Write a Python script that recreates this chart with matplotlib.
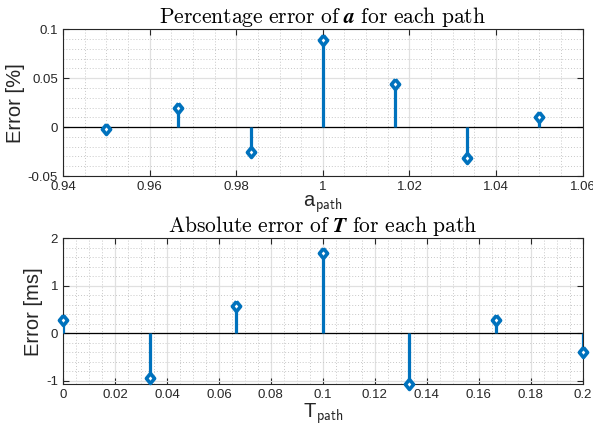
import numpy as np
import matplotlib
matplotlib.use("Agg")
import matplotlib.pyplot as plt
from matplotlib.ticker import MultipleLocator

plt.rcParams['font.family'] = ['Liberation Sans', 'DejaVu Sans']
plt.rcParams['mathtext.fontset'] = 'cm'

# data
a_path = [0.95, 0.966667, 0.983333, 1.0, 1.016667, 1.033333, 1.05]
a_err = [-0.002, 0.020, -0.025, 0.089, 0.044, -0.032, 0.010]
T_path = [0.0, 0.033333, 0.066667, 0.1, 0.133333, 0.166667, 0.2]
T_err = [0.27, -0.95, 0.58, 1.70, -1.07, 0.28, -0.40]

a_ticks = [0.94, 0.96, 0.98, 1.0, 1.02, 1.04, 1.06]
a_ticklabels = ['0.94', '0.96', '0.98', '1', '1.02', '1.04', '1.06']
a_yticks = [-0.05, 0, 0.05, 0.1]
a_yticklabels = ['-0.05', '0', '0.05', '0.1']
T_ticks = [0, 0.02, 0.04, 0.06, 0.08, 0.1, 0.12, 0.14, 0.16, 0.18, 0.2]
T_ticklabels = ['0', '0.02', '0.04', '0.06', '0.08', '0.1', '0.12',
                '0.14', '0.16', '0.18', '0.2']
T_yticks = [-1, 0, 1, 2]
T_yticklabels = ['-1', '0', '1', '2']

blue = '#0072BD'
axcol = '#262626'
diamond = [(0, 1), (0.82, 0), (0, -1), (-0.82, 0), (0, 1)]

fig = plt.figure(figsize=(5.93, 4.29), dpi=100)
ax1 = fig.add_axes([0.1062, 0.5897, 0.8764, 0.342])
ax2 = fig.add_axes([0.1062, 0.1042, 0.8764, 0.3403])


def stem_plot(ax, x, y):
    ax.axhline(0, color='black', lw=0.9, zorder=2)
    ax.vlines(x, 0, y, color=blue, lw=2.3, zorder=3)
    ax.plot(x, y, linestyle='none', marker=diamond, ms=7.2, mfc='white',
            mec=blue, mew=2.6, zorder=4, clip_on=False)


def style(ax):
    ax.grid(True, which='major', color='#e0e0e0', lw=0.9, ls='-', zorder=0)
    ax.grid(True, which='minor', color='#c8c8c8', lw=0.7, ls=(0, (1, 2)), zorder=0)
    ax.set_axisbelow(True)
    ax.tick_params(which='both', direction='in', top=True, right=True,
                   colors=axcol, labelsize=9.5, labelcolor=axcol)
    ax.tick_params(which='major', length=4, width=0.8)
    ax.tick_params(which='minor', length=0)
    for s in ax.spines.values():
        s.set_color(axcol)
        s.set_linewidth(0.8)


stem_plot(ax1, a_path, a_err)
ax1.set_xticks(a_ticks, a_ticklabels)
ax1.set_yticks(a_yticks, a_yticklabels)
ax1.xaxis.set_minor_locator(MultipleLocator(0.005))
ax1.yaxis.set_minor_locator(MultipleLocator(0.01))
ax1.set_xlim(0.94, 1.06)
ax1.set_ylim(-0.05, 0.1)
style(ax1)
ax1.set_title(r'$\mathrm{Percentage\ error\ of\ }\boldsymbol{a}\mathrm{\ for\ each\ path}$',
              fontsize=15.5, pad=3)
ax1.set_xlabel(r'a$_{\mathsf{path}}$', fontsize=14.5, color=axcol, labelpad=0)
ax1.set_ylabel('Error [%]', fontsize=14.5, color=axcol, labelpad=2)

stem_plot(ax2, T_path, T_err)
ax2.set_xticks(T_ticks, T_ticklabels)
ax2.set_yticks(T_yticks, T_yticklabels)
ax2.xaxis.set_minor_locator(MultipleLocator(0.005))
ax2.yaxis.set_minor_locator(MultipleLocator(0.2))
ax2.set_xlim(0, 0.2)
ax2.set_ylim(-1.08, 2)
style(ax2)
ax2.set_title(r'$\mathrm{Absolute\ error\ of\ }\boldsymbol{T}\mathrm{\ for\ each\ path}$',
              fontsize=15.5, pad=3)
ax2.set_xlabel(r'T$_{\mathsf{path}}$', fontsize=14.5, color=axcol, labelpad=0)
ax2.set_ylabel('Error [ms]', fontsize=14.5, color=axcol, labelpad=2)

fig.savefig('out.png', dpi=100)
